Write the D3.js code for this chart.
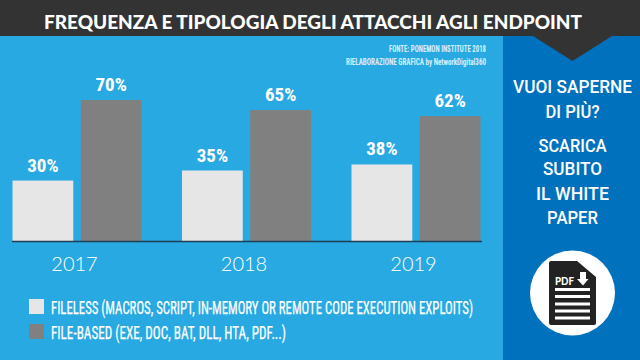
<!DOCTYPE html>
<html><head><meta charset="utf-8">
<script src="https://cdnjs.cloudflare.com/ajax/libs/d3/7.8.5/d3.min.js"></script>
<style>html,body{margin:0;padding:0;background:#29A9E2;overflow:hidden}svg{display:block}</style>
</head><body><svg id="c" width="640" height="360"></svg>
<script>
const years = ["2017", "2018", "2019"];
const seriesKeys = ["fileless", "filebased"];
const fileless = [30, 35, 38];
const filebased = [70, 65, 62];
const seriesColors = ["#E6E6E6", "#808080"];
const legendLabels = ["FILELESS (MACROS, SCRIPT, IN-MEMORY OR REMOTE CODE EXECUTION EXPLOITS)", "FILE-BASED (EXE, DOC, BAT, DLL, HTA, PDF...)"];
const titleText = "FREQUENZA E TIPOLOGIA DEGLI ATTACCHI AGLI ENDPOINT";
const sourceLines = ["FONTE: PONEMON INSTITUTE 2018", "RIELABORAZIONE GRAFICA by NetworkDigital360"];
const ctaLines = ["VUOI SAPERNE", "DI PIÙ?", "SCARICA", "SUBITO", "IL WHITE", "PAPER"];

const narrow = "'Liberation Sans Narrow','Roboto Condensed',Roboto,sans-serif";
const svg = d3.select("#c");
const W = 640, H = 360;
svg.append("rect").attr("width", W).attr("height", H).attr("fill", "#29A9E2");
svg.append("rect").attr("x", 503).attr("width", W - 503).attr("height", H).attr("fill", "#0071BC");
svg.append("rect").attr("width", W).attr("height", 36).attr("fill", "#333333");
svg.append("path").attr("d", "M533,36L572.5,61L612,36Z").attr("fill", "#333333");

function txt(s, x, y, size, opts = {}) {
  const t = svg.append("text").attr("x", x).attr("y", y).text(s)
    .attr("fill", opts.fill || "#fff").attr("font-size", size)
    .attr("font-family", opts.font || narrow)
    .attr("font-weight", opts.weight || 400)
    .attr("text-anchor", opts.anchor || "start");
  if (opts.len) t.attr("textLength", opts.len).attr("lengthAdjust", "spacingAndGlyphs");
  return t;
}
txt(titleText, 313, 28.5, 18.5, {font: "Lato,sans-serif", weight: 900, anchor: "middle", len: 538});
txt(sourceLines[0], 486, 52, 9.5, {anchor: "end", fill: "#D8EFFB", weight: 700, len: 97});
txt(sourceLines[1], 486, 65, 9.5, {anchor: "end", fill: "#D8EFFB", weight: 700, len: 140});

const baseY = 241;
const y = d3.scaleLinear().domain([0, 70]).range([baseY, 100]);
const x0 = d3.scaleBand().domain(years).range([12.5, 480.5]).paddingInner(40.5 / 169.5);
const x1 = d3.scaleBand().domain(seriesKeys).range([0, x0.bandwidth()]).paddingInner(7.5 / 68.5);
const color = d3.scaleOrdinal().domain(seriesKeys).range(seriesColors);
const rows = years.map((yr, i) => ({yr, vals: [
  {k: "fileless", v: fileless[i]}, {k: "filebased", v: filebased[i]}
]}));
const g = svg.append("g").selectAll("g").data(rows).join("g")
  .attr("transform", d => `translate(${x0(d.yr)},0)`);
g.selectAll("rect").data(d => d.vals).join("rect")
  .attr("x", d => x1(d.k)).attr("y", d => y(d.v))
  .attr("width", x1.bandwidth()).attr("height", d => baseY - y(d.v))
  .attr("fill", d => color(d.k));
g.selectAll("text").data(d => d.vals).join("text")
  .attr("x", d => x1(d.k) + x1.bandwidth() / 2).attr("y", d => y(d.v) - 9)
  .attr("text-anchor", "middle").attr("fill", "#fff")
  .attr("font-family", narrow).attr("font-weight", 700).attr("font-size", 19)
  .text(d => d.v + "%");

svg.append("line").attr("x1", 12).attr("x2", 482).attr("y1", baseY + 0.5).attr("y2", baseY + 0.5)
  .attr("stroke", "#1F3F52").attr("stroke-width", 1.5);
const ax = svg.append("g").attr("transform", `translate(0,${baseY})`)
  .call(d3.axisBottom(x0).tickSize(0).tickPadding(16));
ax.select(".domain").remove();
ax.selectAll("text").attr("fill", "#fff").attr("font-family", "Lato,sans-serif")
  .attr("font-weight", 300).attr("font-size", 20).attr("dx", -2.5);

const legendY = d3.scalePoint().domain(seriesKeys).range([299, 324]);
const leg = svg.append("g").selectAll("g").data(seriesKeys).join("g");
leg.append("rect").attr("x", 29).attr("y", d => legendY(d)).attr("width", 15).attr("height", 15)
  .attr("fill", d => color(d));
leg.append("text").attr("x", 51).attr("y", d => legendY(d) + 14.5)
  .attr("fill", "#fff").attr("stroke", "#fff").attr("stroke-width", 0.25)
  .attr("font-family", narrow).attr("font-size", 17.5)
  .attr("textLength", (d, i) => [422, 235][i]).attr("lengthAdjust", "spacingAndGlyphs")
  .text((d, i) => legendLabels[i]);

const ctaY = [93, 118, 152, 175, 200, 224];
ctaLines.forEach((s, i) => txt(s, 572.5, ctaY[i], 19, {anchor: "middle", font: "Roboto,sans-serif", weight: 500,
  len: [119, 54, 68, 59, 73, 51][i]}));

svg.append("circle").attr("cx", 572.5).attr("cy", 293).attr("r", 42.5).attr("fill", "#fff");
svg.append("path").attr("fill", "#222222")
  .attr("d", "M551,261H577L596,277V323a2,2 0 0 1 -2,2H551a2,2 0 0 1 -2,-2V263a2,2 0 0 1 2,-2Z");
txt("PDF", 555, 285, 10.5, {font: "Lato,sans-serif", weight: 900, len: 19});
svg.append("path").attr("fill", "#fff").attr("d", "M580,272H586V279H588.5L583,285.5L577,279H580Z");
[288, 295, 302.5, 309.5, 316.5].forEach(yy => svg.append("rect").attr("x", 555).attr("y", yy)
  .attr("width", 35).attr("height", 3).attr("fill", "#fff"));
</script></body></html>
